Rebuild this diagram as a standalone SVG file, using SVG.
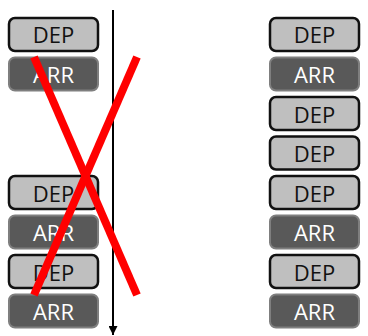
<svg xmlns="http://www.w3.org/2000/svg" width="368" height="336" viewBox="0 0 368 336">
<defs>
<style>
.dep rect{fill:#BFBFBF;stroke:#111;stroke-width:2.5}
.arr rect{fill:#595959;stroke:#7F7F7F;stroke-width:2}
text{font-family:"Open Sans","Liberation Sans",sans-serif;font-size:22px;text-anchor:middle}
.dep text{fill:#111}
.arr text{fill:#fff}
.x{stroke:#FF0000;stroke-width:8;stroke-linecap:butt}
</style>
<marker id="ah" viewBox="0 0 10 10" refX="10" refY="5" markerWidth="9" markerHeight="9" orient="auto" markerUnits="userSpaceOnUse">
<path d="M0,0 L10,5 L0,10 z" fill="#000"/>
</marker>
</defs>
<rect width="368" height="336" fill="#fff"/>
<!-- left column -->
<g id="l1" class="dep"><rect x="9" y="18" width="89" height="33" rx="6"/><text x="53.5" y="43">DEP</text></g>
<g id="l2" class="arr"><rect x="9" y="57.5" width="89" height="33" rx="6"/><text x="53.5" y="82.5">ARR</text></g>
<g id="l3" class="dep"><rect x="9" y="176" width="89" height="33" rx="6"/><text x="53.5" y="201.5">DEP</text></g>
<g id="l4" class="arr"><rect x="9" y="215.5" width="89" height="33" rx="6"/><text x="53.5" y="241">ARR</text></g>
<g id="l5" class="dep"><rect x="9" y="255" width="89" height="33" rx="6"/><text x="53.5" y="280.5">DEP</text></g>
<g id="l6" class="arr"><rect x="9" y="294.5" width="89" height="33" rx="6"/><text x="53.5" y="320">ARR</text></g>
<!-- right column -->
<g id="r1" class="dep"><rect x="270" y="18" width="89" height="33" rx="6"/><text x="314.5" y="43">DEP</text></g>
<g id="r2" class="arr"><rect x="270" y="57.5" width="89" height="33" rx="6"/><text x="314.5" y="82.5">ARR</text></g>
<g id="r3" class="dep"><rect x="270" y="97" width="89" height="33" rx="6"/><text x="314.5" y="122.5">DEP</text></g>
<g id="r4" class="dep"><rect x="270" y="136.5" width="89" height="33" rx="6"/><text x="314.5" y="162">DEP</text></g>
<g id="r5" class="dep"><rect x="270" y="176" width="89" height="33" rx="6"/><text x="314.5" y="201.5">DEP</text></g>
<g id="r6" class="arr"><rect x="270" y="215.5" width="89" height="33" rx="6"/><text x="314.5" y="241">ARR</text></g>
<g id="r7" class="dep"><rect x="270" y="255" width="89" height="33" rx="6"/><text x="314.5" y="280.5">DEP</text></g>
<g id="r8" class="arr"><rect x="270" y="294.5" width="89" height="33" rx="6"/><text x="314.5" y="320">ARR</text></g>
<!-- connectors -->
<g id="connectors">
<line x1="113" y1="10" x2="113" y2="335" stroke="#000" stroke-width="2" marker-end="url(#ah)"/>
<line class="x" x1="34" y1="57" x2="137" y2="295"/>
<line class="x" x1="137" y1="57" x2="34" y2="295"/>
</g>
</svg>
